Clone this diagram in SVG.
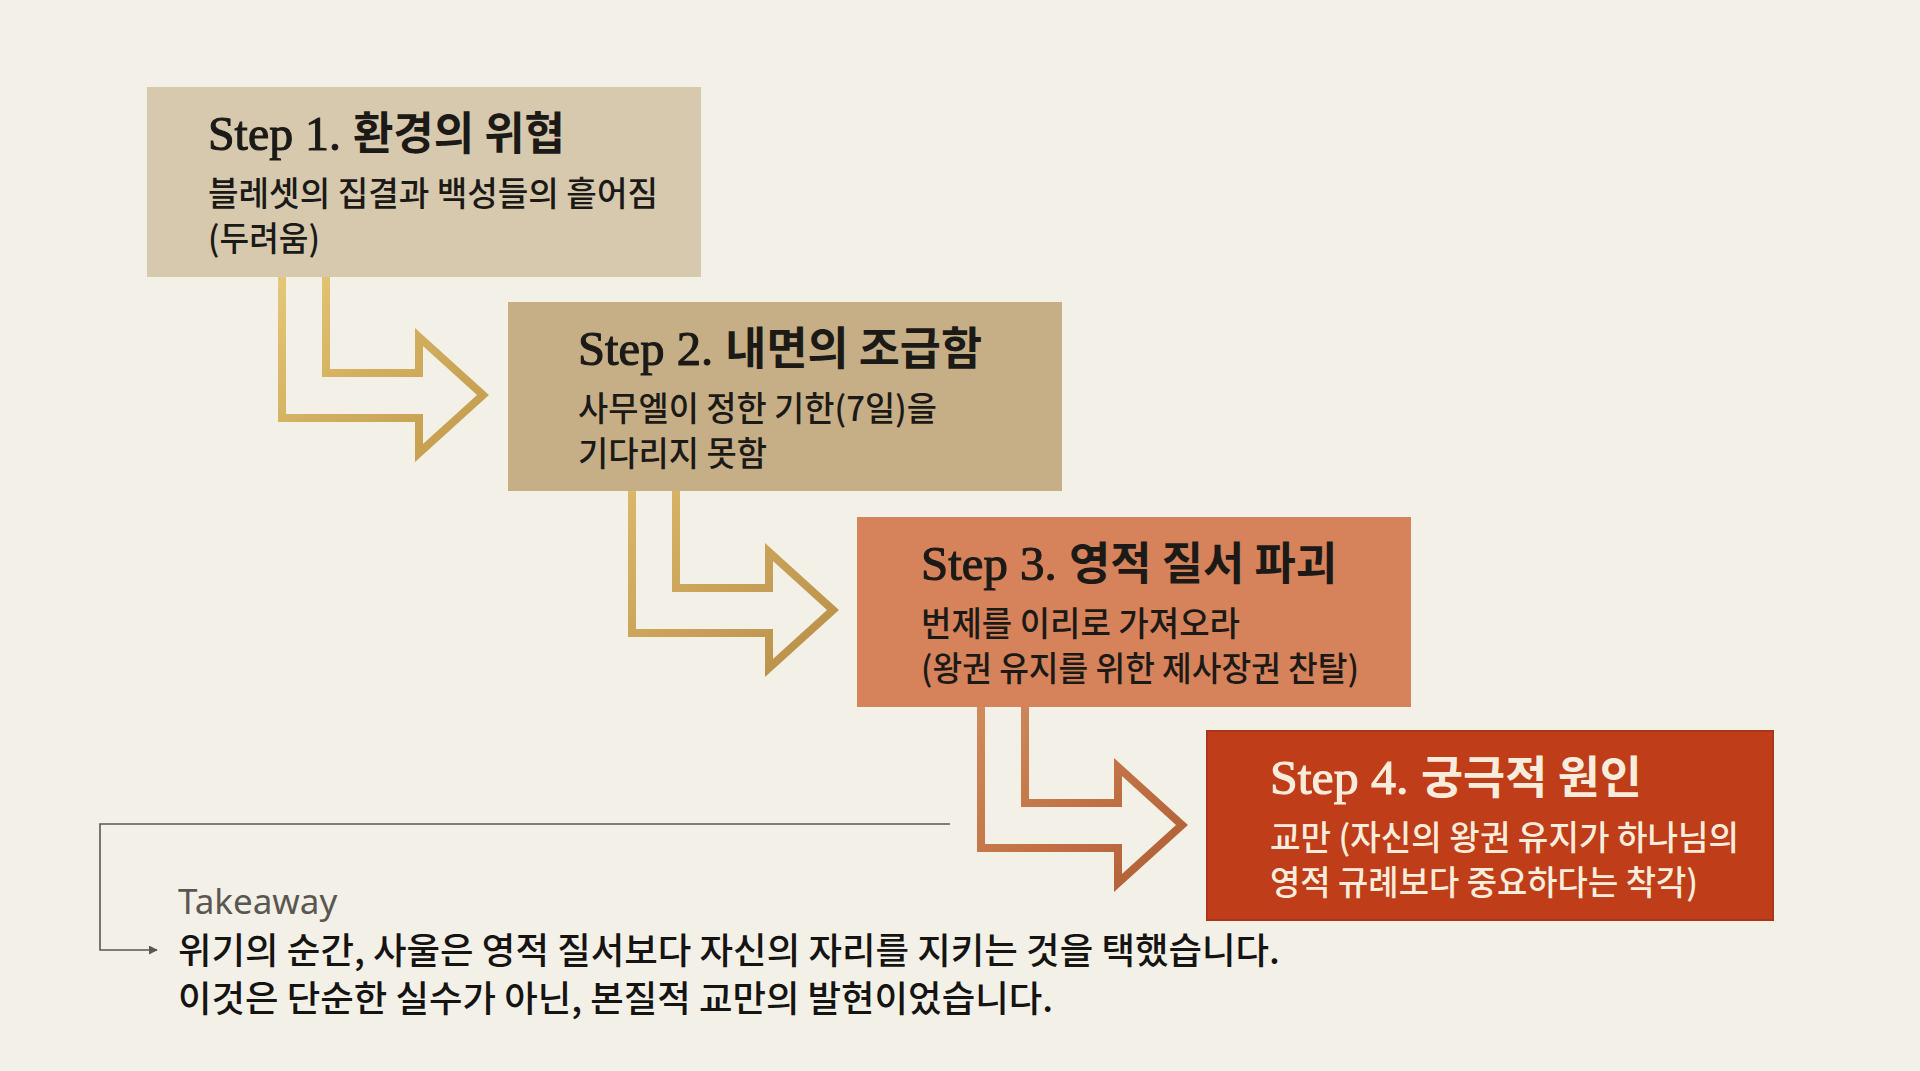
<svg xmlns="http://www.w3.org/2000/svg" width="1920" height="1071" viewBox="0 0 1920 1071">
<defs>
<style>
.bg{fill:#f3f0e7}
.lat{font-family:"Liberation Serif","Times New Roman",serif;font-size:49px;font-weight:400;stroke-width:1.1px}
.ko{font-family:"Noto Sans CJK KR","Noto Sans",sans-serif;font-size:45px;font-weight:700}
.sub{font-family:"Noto Sans CJK KR","Noto Sans",sans-serif;font-size:34px;font-weight:500}
.dark{fill:#1c1a17;stroke:#1c1a17}
.light{fill:#f8eddc;stroke:#f8eddc}
.sub.dark,.sub.light,.ko{stroke:none}
.arrow{fill:none;stroke-width:8;stroke-linejoin:miter;stroke-miterlimit:10}
.conn{fill:none;stroke:#5a5753;stroke-width:1.6}
.tkl{font-family:"Noto Sans","Open Sans",sans-serif;font-size:35px;fill:#5a5753}
.tk{font-family:"Noto Sans CJK KR","Noto Sans",sans-serif;font-size:36px;font-weight:500;fill:#151412}
</style>
<linearGradient id="gold1" x1="0" y1="0" x2="1" y2="1">
<stop offset="0" stop-color="#e4c877"/>
<stop offset="0.5" stop-color="#d1ae5e"/>
<stop offset="1" stop-color="#c39a4c"/>
</linearGradient>
<linearGradient id="gold2" x1="0" y1="0" x2="1" y2="1">
<stop offset="0" stop-color="#dbb768"/>
<stop offset="0.5" stop-color="#c9a258"/>
<stop offset="1" stop-color="#b98e48"/>
</linearGradient>
<linearGradient id="copper" x1="0" y1="0" x2="1" y2="1">
<stop offset="0" stop-color="#d08a5c"/>
<stop offset="0.5" stop-color="#c27446"/>
<stop offset="1" stop-color="#b05d34"/>
</linearGradient>
<marker id="tip" viewBox="0 0 10 10" refX="9" refY="5" markerWidth="9" markerHeight="9" markerUnits="userSpaceOnUse" orient="auto">
<path d="M0,0 L10,5 L0,10 z" fill="#5a5753"/>
</marker>
</defs>

<rect class="bg" x="0" y="0" width="1920" height="1071"/>

<g id="connectors">
<path class="arrow" stroke="url(#gold1)" d="M282,277 V418 H419 V453 L483,395 L419,337 V373 H326 V277"/>
<path class="arrow" stroke="url(#gold2)" d="M632,491 V633 H769 V668 L833,610 L769,552 V588 H676 V491"/>
<path class="arrow" stroke="url(#copper)" d="M981,706 V848 H1118 V883 L1182,825 L1118,767 V803 H1025 V706"/>
<path class="conn" d="M950,824 H100 V950 H157" marker-end="url(#tip)"/>
</g>

<g id="step1">
<rect x="147" y="87" width="554" height="190" fill="#d7c9ae"/>
<text x="208" y="150" class="dark" textLength="357" lengthAdjust="spacingAndGlyphs"><tspan class="lat">Step 1. </tspan><tspan class="ko">환경의 위협</tspan></text>
<text x="208" y="206" class="sub dark" textLength="450" lengthAdjust="spacingAndGlyphs">블레셋의 집결과 백성들의 흩어짐</text>
<text x="208" y="251" class="sub dark" textLength="112" lengthAdjust="spacingAndGlyphs">(두려움)</text>
</g>

<g id="step2">
<rect x="508" y="302" width="554" height="189" fill="#c6af87"/>
<text x="578" y="365" class="dark" textLength="404" lengthAdjust="spacingAndGlyphs"><tspan class="lat">Step 2. </tspan><tspan class="ko">내면의 조급함</tspan></text>
<text x="578" y="421" class="sub dark" textLength="359" lengthAdjust="spacingAndGlyphs">사무엘이 정한 기한(7일)을</text>
<text x="578" y="466" class="sub dark" textLength="189" lengthAdjust="spacingAndGlyphs">기다리지 못함</text>
</g>

<g id="step3">
<rect x="857" y="517" width="554" height="190" fill="#d6825b"/>
<text x="921" y="580" class="dark" textLength="416" lengthAdjust="spacingAndGlyphs"><tspan class="lat">Step 3. </tspan><tspan class="ko">영적 질서 파괴</tspan></text>
<text x="921" y="636" class="sub dark" textLength="319" lengthAdjust="spacingAndGlyphs">번제를 이리로 가져오라</text>
<text x="921" y="681" class="sub dark" textLength="438" lengthAdjust="spacingAndGlyphs">(왕권 유지를 위한 제사장권 찬탈)</text>
</g>

<g id="step4">
<rect x="1207" y="731" width="566" height="189" fill="#bf3e19" stroke="#a9351a" stroke-width="2"/>
<text x="1270" y="794" class="light" textLength="372" lengthAdjust="spacingAndGlyphs"><tspan class="lat">Step 4. </tspan><tspan class="ko">궁극적 원인</tspan></text>
<text x="1270" y="850" class="sub light" textLength="469" lengthAdjust="spacingAndGlyphs">교만 (자신의 왕권 유지가 하나님의</text>
<text x="1270" y="895" class="sub light" textLength="428" lengthAdjust="spacingAndGlyphs">영적 규례보다 중요하다는 착각)</text>
</g>

<g id="takeaway">
<text x="178" y="914" class="tkl">Takeaway</text>
<text x="178" y="964" class="tk" textLength="1102" lengthAdjust="spacingAndGlyphs">위기의 순간, 사울은 영적 질서보다 자신의 자리를 지키는 것을 택했습니다.</text>
<text x="178" y="1012" class="tk" textLength="875" lengthAdjust="spacingAndGlyphs">이것은 단순한 실수가 아닌, 본질적 교만의 발현이었습니다.</text>
</g>
</svg>
